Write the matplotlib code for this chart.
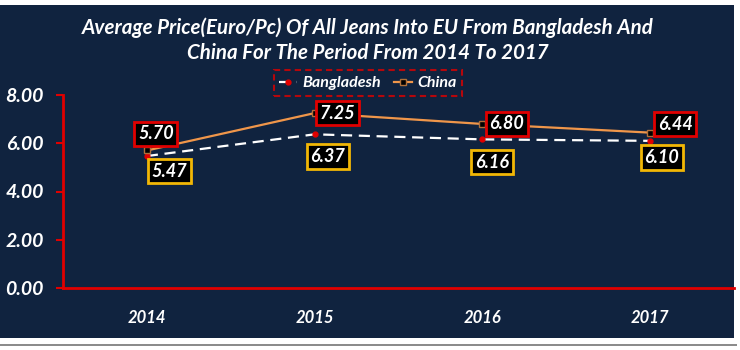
import matplotlib
matplotlib.use("Agg")
import matplotlib.pyplot as plt
from matplotlib.patches import Rectangle

years = ["2014", "2015", "2016", "2017"]
bangladesh = [5.47, 6.37, 6.16, 6.10]
china = [5.70, 7.25, 6.80, 6.44]
y_ticks = [0, 2, 4, 6, 8]

navy = "#10233f"
red = "#e00000"
gold = "#f2b705"
orange = "#f0964a"

plt.rcParams['font.family'] = ['Lato', 'DejaVu Sans']
plt.rcParams['font.weight'] = 'bold'
plt.rcParams['font.style'] = 'italic'

fig = plt.figure(figsize=(7.4, 3.5), dpi=100)
fig.patch.set_facecolor("white")

# dark panel behind the chart, with a thin grey shadow under it
fig.patches.append(Rectangle((0, 4 / 350), 737 / 740, 2 / 350, transform=fig.transFigure,
                             facecolor="#8c8c8c", edgecolor="none", zorder=-10))
fig.patches.append(Rectangle((0, 12 / 350), 734 / 740, 333 / 350, transform=fig.transFigure,
                             facecolor=navy, edgecolor="none", zorder=-9))

ax = fig.add_axes([63 / 740, (350 - 288) / 350, 671 / 740, 193 / 350])
ax.set_facecolor("none")

x = [i + 0.5 for i in range(len(years))]
ax.plot(x, bangladesh, color="white", lw=1.6, dashes=(5, 3),
        marker="o", ms=3.5, mfc=red, mec=red, label="Bangladesh", zorder=3)
ax.plot(x, china, color=orange, lw=1.6,
        marker="s", ms=5, mfc="black", mec="#b0703a", mew=1, label="China", zorder=3)

ax.set_xlim(0, 4)
ax.set_ylim(0, 8)
ax.set_xticks(x)
ax.set_xticklabels(years)
ax.set_yticks(y_ticks)
ax.set_yticklabels(["%.2f" % v for v in y_ticks])

for side in ["top", "right"]:
    ax.spines[side].set_visible(False)
for side in ["left", "bottom"]:
    ax.spines[side].set_color(red)
    ax.spines[side].set_linewidth(2)
ax.tick_params(axis="y", colors=red, width=1.5, length=5, labelcolor="white", labelsize=14, pad=9)
ax.tick_params(axis="x", length=0, labelcolor="white", labelsize=12, pad=16)

# label offsets in points from each data point
china_offsets = [(6.5, 12), (16.5, 0), (17.5, 0), (18, 6)]
bd_offsets = [(16.5, -11), (9.5, -16), (7, -16.5), (8.5, -12)]

for xi, v, off in zip(x, china, china_offsets):
    ax.annotate("%.2f" % v, (xi, v), xytext=off, textcoords="offset points",
                ha="center", va="center", color="white", fontsize=13, zorder=5,
                bbox=dict(boxstyle="square,pad=0.2", fc="black", ec=red, lw=2))
for xi, v, off in zip(x, bangladesh, bd_offsets):
    ax.annotate("%.2f" % v, (xi, v), xytext=off, textcoords="offset points",
                ha="center", va="center", color="white", fontsize=13, zorder=5,
                bbox=dict(boxstyle="square,pad=0.2", fc="black", ec=gold, lw=2))

fig.text(368 / 740, 1 - 40 / 350,
         "Average Price(Euro/Pc) Of All Jeans Into EU From Bangladesh And\n"
         "China For The Period From 2014 To 2017",
         ha="center", va="center", color="white", fontsize=14.8, linespacing=1.3)

leg = ax.legend(loc="center", bbox_to_anchor=(368 / 740, 1 - 83 / 350),
                bbox_transform=fig.transFigure, ncol=2, frameon=True,
                fontsize=11.5, handlelength=1.1, handletextpad=0.35,
                columnspacing=0.8, borderpad=0.35, borderaxespad=0,
                labelcolor="white", fancybox=False)
leg.get_frame().set_facecolor("none")
leg.get_frame().set_edgecolor(red)
leg.get_frame().set_linestyle((0, (3, 2)))
leg.get_frame().set_linewidth(1.5)

fig.savefig("out.png", dpi=100, facecolor=fig.get_facecolor())
